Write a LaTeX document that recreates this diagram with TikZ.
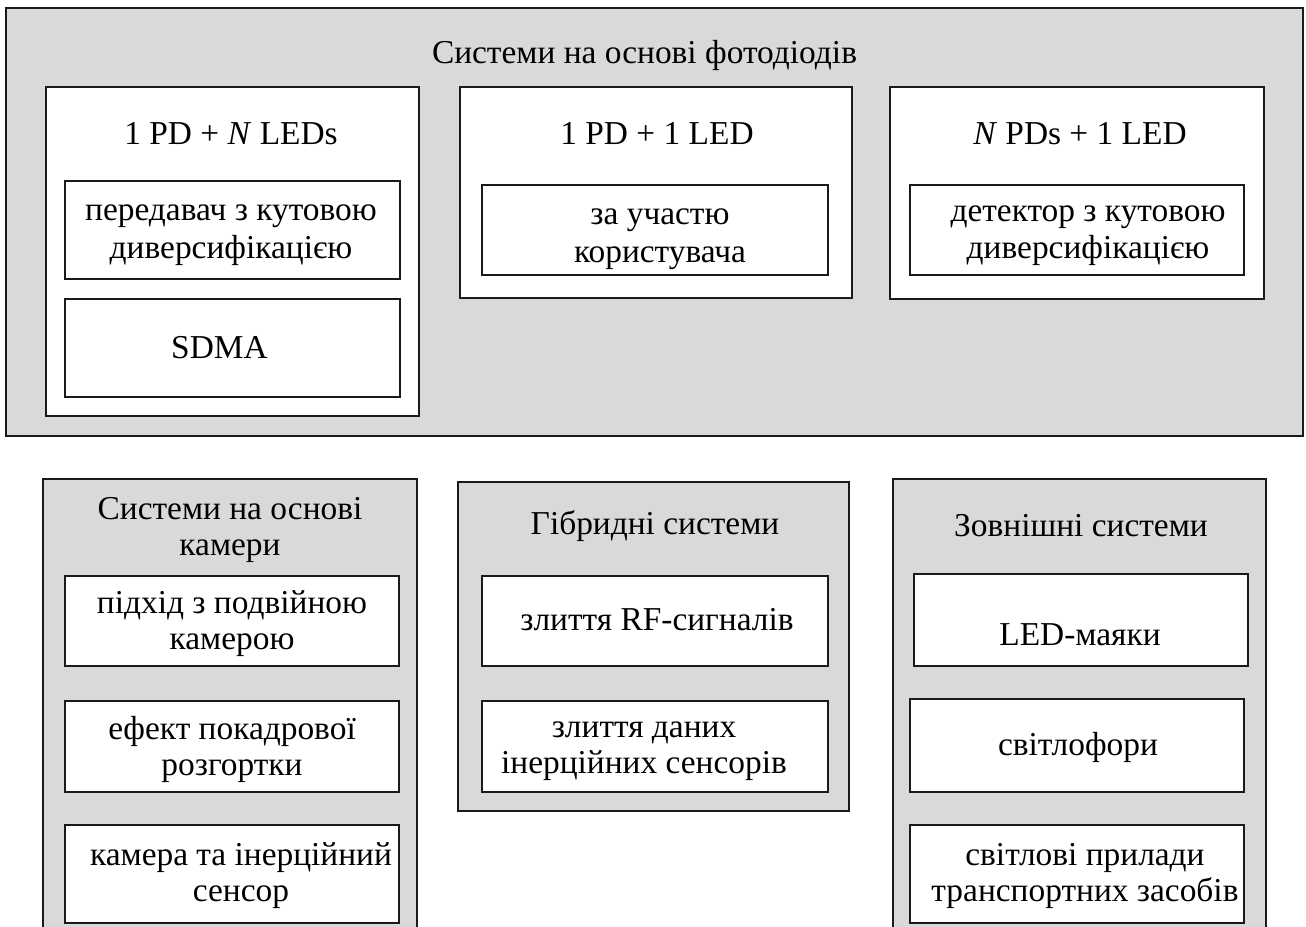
\documentclass[tikz,border=0pt]{standalone}
\usepackage{fontspec}
\setmainfont{Liberation Serif}
\definecolor{panelgray}{HTML}{D9D9D9}
\definecolor{edge}{HTML}{1A1A1A}
\begin{document}
\begin{tikzpicture}[x=1pt,y=-1pt,
  panel/.style={draw=edge,line width=1.6pt,fill=panelgray,rectangle,inner sep=0pt},
  card/.style={draw=edge,line width=1.6pt,fill=white,rectangle,inner sep=0pt},
  lbl/.style={inner sep=0pt,align=center,font=\fontsize{33.4}{36}\selectfont,text=black}]
\path[use as bounding box] (0,0) rectangle (1306,926);
\clip (0,0) rectangle (1306,926);
% top panel
\node[panel,minimum width=1297pt,minimum height=428pt] (O) at (654.5,222) {};
\node[lbl] (Ot) at (644.5,55) {Системи на основі фотодіодів};
% group 1
\node[card,minimum width=373pt,minimum height=329pt] (B1) at (232.5,251.5) {};
\node[lbl] (B1t) at (231,134) {1 PD + \textit{N} LEDs};
\node[card,minimum width=335pt,minimum height=98pt] (S1a) at (232.5,230) {};
\node[lbl,font=\fontsize{33.4}{37.5}\selectfont] (S1at) at (231,235) {передавач з кутовою\\диверсифікацією};
\node[card,minimum width=335pt,minimum height=98pt] (S1b) at (232.5,348) {};
\node[lbl] (S1bt) at (219.5,348) {SDMA};
% group 2
\node[card,minimum width=392pt,minimum height=211pt] (B2) at (656,192.5) {};
\node[lbl] (B2t) at (657,134) {1 PD + 1 LED};
\node[card,minimum width=346pt,minimum height=90pt] (S2) at (655,230) {};
\node[lbl,font=\fontsize{33.4}{38}\selectfont] (S2t) at (660,239) {за участю\\користувача};
% group 3
\node[card,minimum width=374pt,minimum height=212pt] (B3) at (1077,193) {};
\node[lbl] (B3t) at (1080,134) {\textit{N} PDs + 1 LED};
\node[card,minimum width=334pt,minimum height=90pt] (S3) at (1077,230) {};
\node[lbl,font=\fontsize{33.4}{37.5}\selectfont] (S3t) at (1088,235.5) {детектор з кутовою\\диверсифікацією};
% bottom panel 4
\node[panel,minimum width=374pt,minimum height=461pt] (B4) at (230,709.5) {};
\node[lbl] (B4t) at (230,530) {Системи на основі\\камери};
\node[card,minimum width=334pt,minimum height=90pt] (S4a) at (232,621) {};
\node[lbl] (S4at) at (232,624) {підхід з подвійною\\камерою};
\node[card,minimum width=334pt,minimum height=91pt] (S4b) at (232,746.5) {};
\node[lbl] (S4bt) at (232,749) {ефект покадрової\\розгортки};
\node[card,minimum width=334pt,minimum height=98pt] (S4c) at (232,874) {};
\node[lbl] (S4ct) at (241,876) {камера та інерційний\\сенсор};
% bottom panel 5
\node[panel,minimum width=391pt,minimum height=329pt] (B5) at (653.5,646.5) {};
\node[lbl] (B5t) at (655,526) {Гібридні системи};
\node[card,minimum width=346pt,minimum height=90pt] (S5a) at (655,621) {};
\node[lbl] (S5at) at (657,620) {злиття RF-сигналів};
\node[card,minimum width=346pt,minimum height=91pt] (S5b) at (655,746.5) {};
\node[lbl] (S5bt) at (644,751) {злиття даних\\інерційних сенсорів};
% bottom panel 6
\node[panel,minimum width=373pt,minimum height=461pt] (B6) at (1079.5,709.5) {};
\node[lbl] (B6t) at (1081,526) {Зовнішні системи};
\node[card,minimum width=334pt,minimum height=92pt] (S6a) at (1081,620) {};
\node[lbl] (S6at) at (1080,635) {LED-маяки};
\node[card,minimum width=334pt,minimum height=93pt] (S6b) at (1077,745.5) {};
\node[lbl] (S6bt) at (1078,747) {світлофори};
\node[card,minimum width=334pt,minimum height=98pt] (S6c) at (1077,874) {};
\node[lbl] (S6ct) at (1085,876) {світлові прилади\\транспортних засобів};
\end{tikzpicture}
\end{document}
